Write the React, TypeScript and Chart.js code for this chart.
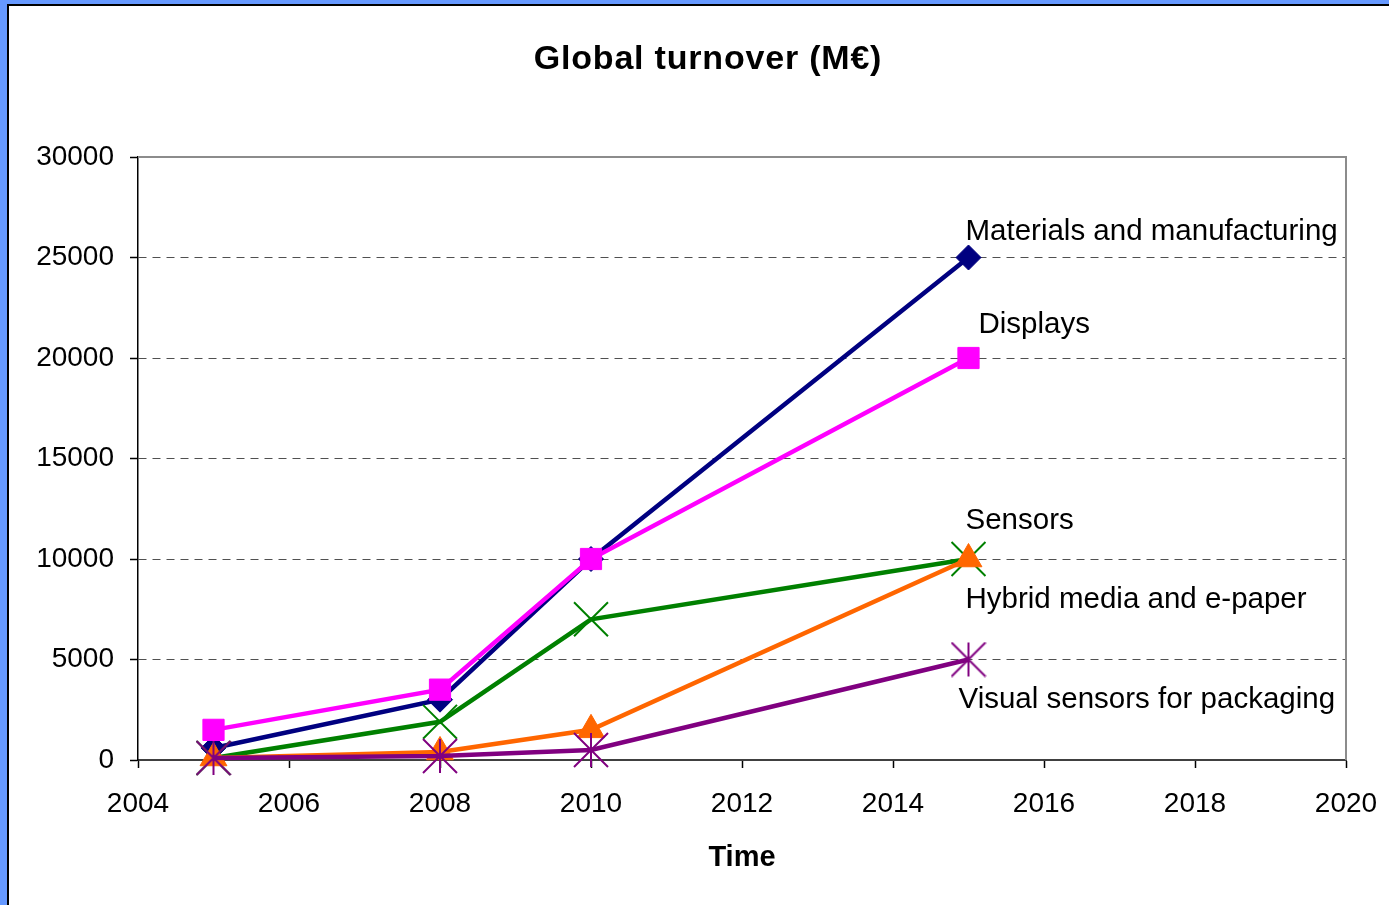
import React, { useEffect, useRef } from 'react';
import { Chart, registerables } from 'chart.js';

Chart.register(...registerables);

// ---- data ----
const years = [2005, 2008, 2010, 2015];
const materials = [600, 3000, 10000, 25000];
const displays = [1500, 3500, 10000, 20000];
const sensors = [100, 1900, 7000, 10000];
const hybrid = [100, 400, 1500, 10000];
const visual = [100, 200, 500, 5000];
const seriesNames = [
  'Materials and manufacturing',
  'Displays',
  'Sensors',
  'Hybrid media and e-paper',
  'Visual sensors for packaging',
];
const xTickValues = [2004, 2006, 2008, 2010, 2012, 2014, 2016, 2018, 2020];
const yTickValues = [0, 5000, 10000, 15000, 20000, 25000, 30000];
const chartTitle = 'Global turnover (M€)';
const xAxisTitle = 'Time';

// ---- styles ----
const FONT = '"Liberation Sans", Arial, sans-serif';
const colors = ['#000080', '#FF00FF', '#008000', '#FF6600', '#800080'];
// label offsets (px) relative to the last point of each series: [dx, dy(baseline)]
const labelOffsets: [number, number][] = [
  [-3, -18],
  [10, -25],
  [-3, -30],
  [-3, 49],
  [-10, 48],
];

function makeStar(color: string): HTMLCanvasElement {
  const c = document.createElement('canvas');
  c.width = 36;
  c.height = 36;
  const g = c.getContext('2d')!;
  g.strokeStyle = color;
  g.lineWidth = 2;
  g.beginPath();
  g.moveTo(1, 1);
  g.lineTo(35, 35);
  g.moveTo(35, 1);
  g.lineTo(1, 35);
  g.moveTo(18, 1);
  g.lineTo(18, 35);
  g.stroke();
  return c;
}

const toXY = (vals: number[]) => vals.map((v, i) => ({ x: years[i], y: v }));

export default function App() {
  const ref = useRef<HTMLCanvasElement | null>(null);

  useEffect(() => {
    document.body.style.margin = '0';
    const canvas = ref.current!;
    const series = [materials, displays, sensors, hybrid, visual];

    const mk = (i: number, extra: any) => ({
      label: seriesNames[i],
      data: toXY(series[i]),
      borderColor: colors[i],
      backgroundColor: colors[i],
      pointBackgroundColor: colors[i],
      pointBorderColor: colors[i],
      borderWidth: 4.5,
      tension: 0,
      clip: false,
      ...extra,
    });

    const dsMaterials = mk(0, { pointStyle: 'rectRot', pointRadius: 12.5, pointBorderWidth: 1 });
    const dsDisplays = mk(1, { pointStyle: 'rect', pointRadius: 15, pointBorderWidth: 1 });
    const dsSensors = mk(2, { pointStyle: 'crossRot', pointRadius: 24, pointBorderWidth: 2 });
    const dsHybrid = mk(3, { pointStyle: 'triangle', pointRadius: 15.5, pointBorderWidth: 1 });
    const dsVisual = mk(4, { pointStyle: makeStar(colors[4]), pointRadius: 18, pointBorderWidth: 2 });

    const overlay = {
      id: 'overlay',
      afterDraw(chart: any) {
        const { ctx, chartArea } = chart;
        const { left, right, top, bottom } = chartArea;
        ctx.save();
        // plot frame top/right
        ctx.strokeStyle = '#8c8c8c';
        ctx.lineWidth = 2;
        ctx.beginPath();
        ctx.moveTo(left, top);
        ctx.lineTo(right, top);
        ctx.lineTo(right, bottom);
        ctx.stroke();
        // title
        ctx.fillStyle = '#000';
        ctx.font = `bold 34px ${FONT}`;
        (ctx as any).letterSpacing = '0.8px';
        ctx.textAlign = 'center';
        ctx.textBaseline = 'alphabetic';
        ctx.fillText(chartTitle, 699, 63);
        (ctx as any).letterSpacing = '0px';
        ctx.restore();
      },
      afterDatasetsDraw(chart: any) {
        const { ctx } = chart;
        const xs = chart.scales.x;
        const ys = chart.scales.y;
        const series2 = [materials, displays, sensors, hybrid, visual];
        ctx.save();
        ctx.fillStyle = '#000';
        ctx.font = `29.5px ${FONT}`;
        ctx.textAlign = 'left';
        ctx.textBaseline = 'alphabetic';
        seriesNames.forEach((name, i) => {
          const last = series2[i].length - 1;
          const px = xs.getPixelForValue(years[last]);
          const py = ys.getPixelForValue(series2[i][last]);
          ctx.fillText(name, px + labelOffsets[i][0], py + labelOffsets[i][1]);
        });
        ctx.restore();
      },
    };

    const chart = new Chart(canvas, {
      type: 'line',
      data: {
        datasets: [dsVisual, dsHybrid, dsSensors, dsDisplays, dsMaterials] as any,
      },
      options: {
        animation: false,
        responsive: false,
        maintainAspectRatio: false,
        devicePixelRatio: 1,
        layout: { padding: { left: 0, right: 43, top: 151, bottom: 20 } },
        plugins: {
          legend: { display: false },
          tooltip: { enabled: false },
          title: { display: false },
        },
        scales: {
          x: {
            type: 'linear',
            min: 2004,
            max: 2020,
            afterBuildTicks: (scale: any) => {
              scale.ticks = xTickValues.map((v) => ({ value: v }));
            },
            afterFit: (scale: any) => {
              scale.height = 125;
              scale.paddingLeft = 0;
              scale.paddingRight = 0;
            },
            ticks: {
              color: '#000',
              font: { family: FONT, size: 28 },
              padding: 19,
              maxRotation: 0,
              autoSkip: false,
              callback: (v: any) => String(v),
            },
            grid: {
              drawOnChartArea: false,
              drawTicks: true,
              tickLength: 8,
              tickColor: '#000',
              tickWidth: 1.5,
            },
            border: { display: true, color: '#404040', width: 2 },
            title: {
              display: true,
              text: xAxisTitle,
              color: '#000',
              font: { family: FONT, size: 29, weight: 'bold' },
              padding: { top: 0, bottom: 10 },
            },
          },
          y: {
            type: 'linear',
            min: 0,
            max: 30000,
            afterBuildTicks: (scale: any) => {
              scale.ticks = yTickValues.map((v) => ({ value: v }));
            },
            afterFit: (scale: any) => {
              scale.width = 129;
            },
            ticks: {
              color: '#000',
              font: { family: FONT, size: 28 },
              padding: 16,
              autoSkip: false,
              callback: (v: any) => String(v),
            },
            grid: {
              drawOnChartArea: true,
              drawTicks: true,
              tickLength: 8,
              tickColor: '#000',
              tickWidth: 1.5,
              lineWidth: 1,
              color: (ctx: any) => {
                const v = ctx.tick ? ctx.tick.value : null;
                return v === 0 || v === 30000 ? 'rgba(0,0,0,0)' : '#505050';
              },
            },
            border: { display: true, color: '#000', width: 1.5, dash: [8, 6] },
          },
        },
      } as any,
      plugins: [overlay],
    });

    return () => chart.destroy();
  }, []);

  return (
    <div
      style={{
        position: 'fixed',
        left: 0,
        top: 0,
        width: 1389,
        height: 905,
        background: '#6699FF',
        overflow: 'hidden',
      }}
    >
      <div
        style={{
          position: 'absolute',
          left: 7,
          top: 4,
          width: 1382,
          height: 901,
          boxSizing: 'border-box',
          borderLeft: '2px solid #000',
          borderTop: '2px solid #000',
          background: '#fff',
        }}
      >
        <canvas ref={ref} width={1380} height={899} style={{ display: 'block' }} />
      </div>
    </div>
  );
}
